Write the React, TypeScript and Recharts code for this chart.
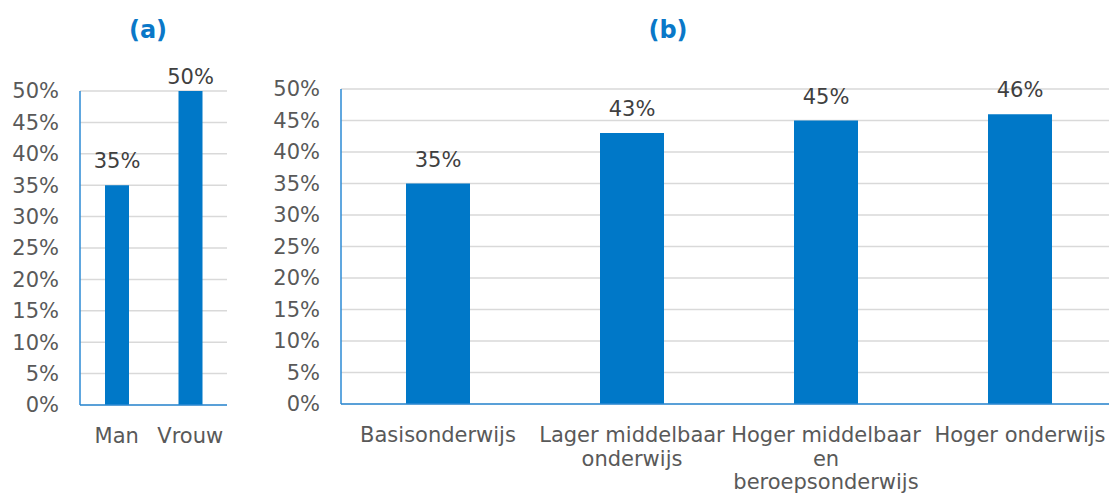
import React from "react";
import { BarChart, Bar, XAxis, YAxis, CartesianGrid, LabelList } from "recharts";

const genderCategories = ["Man", "Vrouw"];
const genderValues = [35, 50];

const educationCategories = [
  "Basisonderwijs",
  "Lager middelbaar onderwijs",
  "Hoger middelbaar en beroepsonderwijs",
  "Hoger onderwijs",
];
const educationTickLines = [
  ["Basisonderwijs"],
  ["Lager middelbaar", "onderwijs"],
  ["Hoger middelbaar", "en", "beroepsonderwijs"],
  ["Hoger onderwijs"],
];
const educationValues = [35, 43, 45, 46];

const yTicks = [0, 5, 10, 15, 20, 25, 30, 35, 40, 45, 50];
const panelTitles = ["(a)", "(b)"];

const genderData = genderCategories.map((c, i) => ({ name: c, value: genderValues[i] }));
const educationData = educationCategories.map((c, i) => ({
  name: c,
  value: educationValues[i],
  lines: educationTickLines[i],
}));

const FONT = "'DejaVu Sans', Verdana, sans-serif";
const BAR = "#0078c8";
const AXIS = "#2b8ad4";
const GRID = "#d9d9d9";
const TICK = "#595959";
const LABEL = "#404040";
const FS = 21;

const makeLabel = (minBaseline: number) => (props: any) => {
  const { x, y, width, value } = props;
  const baseline = Math.max(y - 17, minBaseline);
  return (
    <text x={x + width / 2} y={baseline} textAnchor="middle" fill={LABEL} fontSize={FS} fontFamily={FONT}>
      {`${value}%`}
    </text>
  );
};

const MultiTick = (props: any) => {
  const { x, y, payload, linesFor } = props;
  const lines: string[] = linesFor ? linesFor(payload.value) : [payload.value];
  return (
    <text x={x} y={y + 38} textAnchor="middle" fill={TICK} fontSize={FS} fontFamily={FONT}>
      {lines.map((l, i) => (
        <tspan key={i} x={x} dy={i === 0 ? 0 : 23.5}>
          {l}
        </tspan>
      ))}
    </text>
  );
};

const eduLines = (v: string) => {
  const idx = educationCategories.indexOf(v);
  return idx >= 0 ? educationTickLines[idx] : [v];
};

const titleStyle = (left: number): React.CSSProperties => ({
  position: "absolute",
  left,
  top: 14,
  width: 80,
  textAlign: "center",
  fontFamily: FONT,
  fontWeight: "bold",
  fontSize: 24,
  color: "#0a78c8",
  lineHeight: "32px",
});

export default function App() {
  return (
    <div
      style={{
        position: "absolute",
        left: 0,
        top: 0,
        width: 1109,
        height: 494,
        overflow: "hidden",
        background: "#fff",
      }}
    >
      <div style={titleStyle(108)}>{panelTitles[0]}</div>
      <div style={titleStyle(628)}>{panelTitles[1]}</div>

      <div style={{ position: "absolute", left: 0, top: 0 }}>
        <BarChart
          width={240}
          height={494}
          data={genderData}
          margin={{ top: 91, right: 13, bottom: 0, left: 0 }}
        >
          <CartesianGrid horizontal vertical={false} stroke={GRID} strokeWidth={1.5} />
          <XAxis
            dataKey="name"
            height={89}
            axisLine={{ stroke: AXIS, strokeWidth: 1.5 }}
            tickLine={false}
            tickSize={0}
            tickMargin={0}
            interval={0}
            tick={<MultiTick />}
          />
          <YAxis
            width={80}
            domain={[0, 50]}
            ticks={yTicks}
            interval={0}
            tickFormatter={(v: number) => `${v}%`}
            axisLine={{ stroke: AXIS, strokeWidth: 1.5 }}
            tickLine={false}
            tickSize={0}
            tickMargin={21}
            tick={{ fill: TICK, fontSize: FS, fontFamily: FONT }}
          />
          <Bar dataKey="value" fill={BAR} barSize={24} isAnimationActive={false}>
            <LabelList dataKey="value" content={makeLabel(84)} />
          </Bar>
        </BarChart>
      </div>

      <div style={{ position: "absolute", left: 260, top: 0 }}>
        <BarChart
          width={857}
          height={494}
          data={educationData}
          margin={{ top: 89, right: 0, bottom: 0, left: 0 }}
        >
          <CartesianGrid horizontal vertical={false} stroke={GRID} strokeWidth={1.5} />
          <XAxis
            dataKey="name"
            height={90}
            axisLine={{ stroke: AXIS, strokeWidth: 1.5 }}
            tickLine={false}
            tickSize={0}
            tickMargin={0}
            interval={0}
            tick={<MultiTick linesFor={eduLines} />}
          />
          <YAxis
            width={81}
            domain={[0, 50]}
            ticks={yTicks}
            interval={0}
            tickFormatter={(v: number) => `${v}%`}
            axisLine={{ stroke: AXIS, strokeWidth: 1.5 }}
            tickLine={false}
            tickSize={0}
            tickMargin={21}
            tick={{ fill: TICK, fontSize: FS, fontFamily: FONT }}
          />
          <Bar dataKey="value" fill={BAR} barSize={64} isAnimationActive={false}>
            <LabelList dataKey="value" content={makeLabel(0)} />
          </Bar>
        </BarChart>
      </div>
    </div>
  );
}
